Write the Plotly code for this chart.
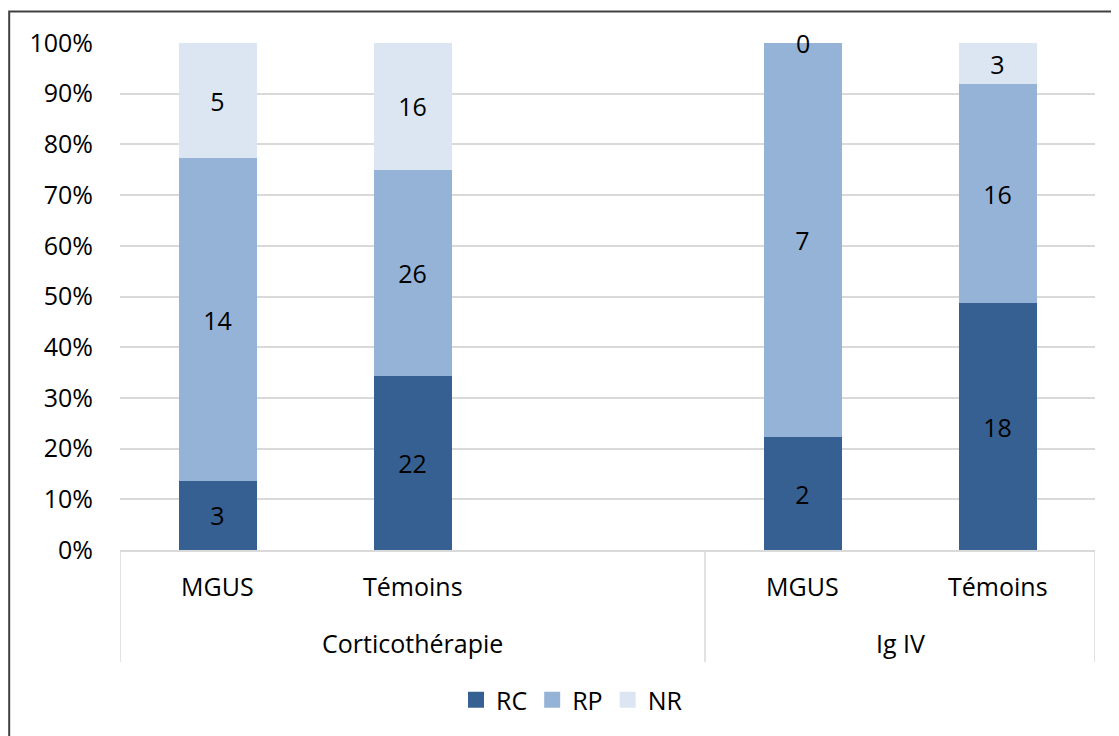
import plotly.graph_objects as go

# ---- data ----
positions = [0, 1, 3, 4]            # slot 2 is an empty gap between groups
subcats = ["MGUS", "Témoins", "MGUS", "Témoins"]
groups = ["Corticothérapie", "Ig IV"]
group_centers = [1, 3.5]
group_edges = [-0.5, 2.5, 4.5]
rc = [3, 22, 2, 18]
rp = [14, 26, 7, 16]
nr = [5, 16, 0, 3]
series_names = ["RC", "RP", "NR"]
colors = ["#376092", "#95B3D7", "#DCE6F2"]

FONT = "Open Sans"
FS = 25
OFF = 8  # page body margin
W, H = 1119 - OFF, 736 - OFF
L, R, T, B = 120 - OFF, 24, 43 - OFF, 186
PW, PH = W - L - R, H - T - B

def py(p):  # page pixel y -> paper y
    return (H - B - (p - OFF)) / PH

def px(p):  # page pixel x -> paper x
    return ((p - OFF) - L) / PW

fig = go.Figure()
all_series = [rc, rp, nr]
totals = [sum(v) for v in zip(*all_series)]
for name, vals, col in zip(series_names, all_series, colors):
    fig.add_trace(go.Bar(
        x=positions, y=vals, name=name, marker=dict(color=col, line=dict(width=0)),
        text=[str(v) if v else "" for v in vals], textposition="inside",
        insidetextanchor="middle", textangle=0,
        insidetextfont=dict(family=FONT, size=FS, color="#000000"),
        width=0.4, showlegend=False, hoverinfo="skip",
    ))
    fig.add_trace(go.Scatter(
        x=[None], y=[None], mode="markers", name=name,
        marker=dict(symbol="square", size=17, color=col),
    ))

# zero-valued labels (cannot be drawn inside zero-height bars)
cum = [0] * len(positions)
for vals in all_series:
    for i, v in enumerate(vals):
        cum[i] += v
        if v == 0:
            fig.add_annotation(x=positions[i], y=100 * cum[i] / totals[i], xref="x", yref="y",
                               text="0", showarrow=False, yanchor="middle",
                               font=dict(family=FONT, size=FS, color="#000000"))

# category labels
for p, s in zip(positions, subcats):
    fig.add_annotation(x=p, y=py(586), xref="x", yref="paper", text=s, showarrow=False,
                       yanchor="middle", font=dict(family=FONT, size=FS, color="#000000"))
for c, g in zip(group_centers, groups):
    fig.add_annotation(x=c, y=py(643), xref="x", yref="paper", text=g, showarrow=False,
                       yanchor="middle", font=dict(family=FONT, size=FS, color="#000000"))
for e in group_edges:
    fig.add_shape(type="line", x0=e, x1=e, xref="x", yref="paper", y0=0, y1=py(662),
                  line=dict(color="#D9D9D9", width=1.5))

# outer chart border
fig.add_shape(type="rect", xref="paper", yref="paper", x0=px(9.2), x1=px(1140), y0=py(760), y1=py(11.5),
              line=dict(color="#404040", width=2), fillcolor="rgba(0,0,0,0)")

fig.update_layout(
    width=W, height=H, margin=dict(l=L, r=R, t=T, b=B),
    barmode="stack", barnorm="percent", bargap=0.6,
    paper_bgcolor="white", plot_bgcolor="white",
    font=dict(family=FONT, size=FS, color="#000000"),
    uniformtext=dict(minsize=FS, mode="show"),
    legend=dict(orientation="h", x=px(572), xanchor="center", y=py(700), yanchor="middle",
                font=dict(family=FONT, size=FS, color="#000000"), itemsizing="trace",
                traceorder="normal", bgcolor="rgba(0,0,0,0)"),
    xaxis=dict(range=[-0.5, 4.5], showticklabels=False, showgrid=False, zeroline=False,
               showline=True, linecolor="#D9D9D9", linewidth=1.5, fixedrange=True),
    yaxis=dict(range=[0, 100], dtick=10, ticksuffix="%", showgrid=True, gridcolor="#D9D9D9",
               gridwidth=1.5, zeroline=False, showline=False, ticklabelstandoff=26,
               tickfont=dict(family=FONT, size=FS, color="#000000"), fixedrange=True),
)

fig.write_html("out.html")
